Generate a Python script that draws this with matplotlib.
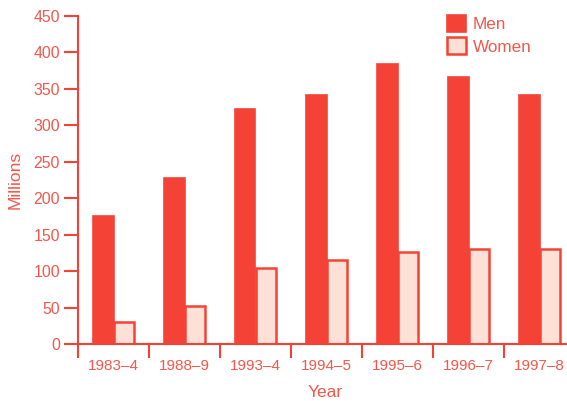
import matplotlib.pyplot as plt
import numpy as np

plt.rcParams['font.family'] = ['Liberation Sans', 'DejaVu Sans']

years = ['1983–4', '1988–9', '1993–4', '1994–5', '1995–6', '1996–7', '1997–8']
men = [175, 228, 322, 342, 384, 366, 342]
women = [30, 52, 104, 115, 126, 131, 130]

red = '#f44336'
text_red = '#f4574b'
light = '#fde1d7'

fig = plt.figure(figsize=(5.67, 4.01), dpi=100)
ax = fig.add_axes([78 / 567, 57 / 401, 497 / 567, 328 / 401])

x = np.arange(len(years))
w = 0.285
ax.bar(x - w / 2, men, w, color=red, edgecolor=red, linewidth=1.2, label='Men')
ax.bar(x + w / 2, women, w, color=light, edgecolor=red, linewidth=1.8, label='Women')

ax.set_xlim(-0.5, len(years) - 0.5)
ax.set_ylim(0, 450)
ax.set_yticks(np.arange(0, 451, 50))

# category labels centered, boundary ticks below
ax.set_xticks(np.arange(-0.5, len(years), 1.0))
ax.set_xticklabels([])
ax.set_xticks(x, minor=True)
ax.set_xticklabels(years, minor=True)
ax.tick_params(axis='x', which='major', direction='out', length=10, width=1.5, color=red)
ax.tick_params(axis='x', which='minor', length=0, pad=11, labelsize=11, labelcolor=text_red)
ax.tick_params(axis='y', direction='out', length=10, width=1.5, color=red,
               labelsize=11.4, labelcolor=text_red, pad=3)

for s in ['top', 'right']:
    ax.spines[s].set_visible(False)
for s in ['left', 'bottom']:
    ax.spines[s].set_color(red)
    ax.spines[s].set_linewidth(1.5)
ax.spines['bottom'].set_zorder(3)

ax.set_xlabel('Year', fontsize=12.5, color=text_red)
ax.xaxis.set_label_coords(247 / 497, -41 / 328)
ax.set_ylabel('Millions', fontsize=12.5, color=text_red, labelpad=8)

leg = ax.legend(loc='upper left', bbox_to_anchor=(369 / 497, 1 + 1 / 328), frameon=False,
                fontsize=12.3, handlelength=1.1, handleheight=1.15, handletextpad=0.4,
                labelspacing=0.3, borderaxespad=0, borderpad=0)
for t in leg.get_texts():
    t.set_color(text_red)

fig.savefig('out.png', dpi=100)
